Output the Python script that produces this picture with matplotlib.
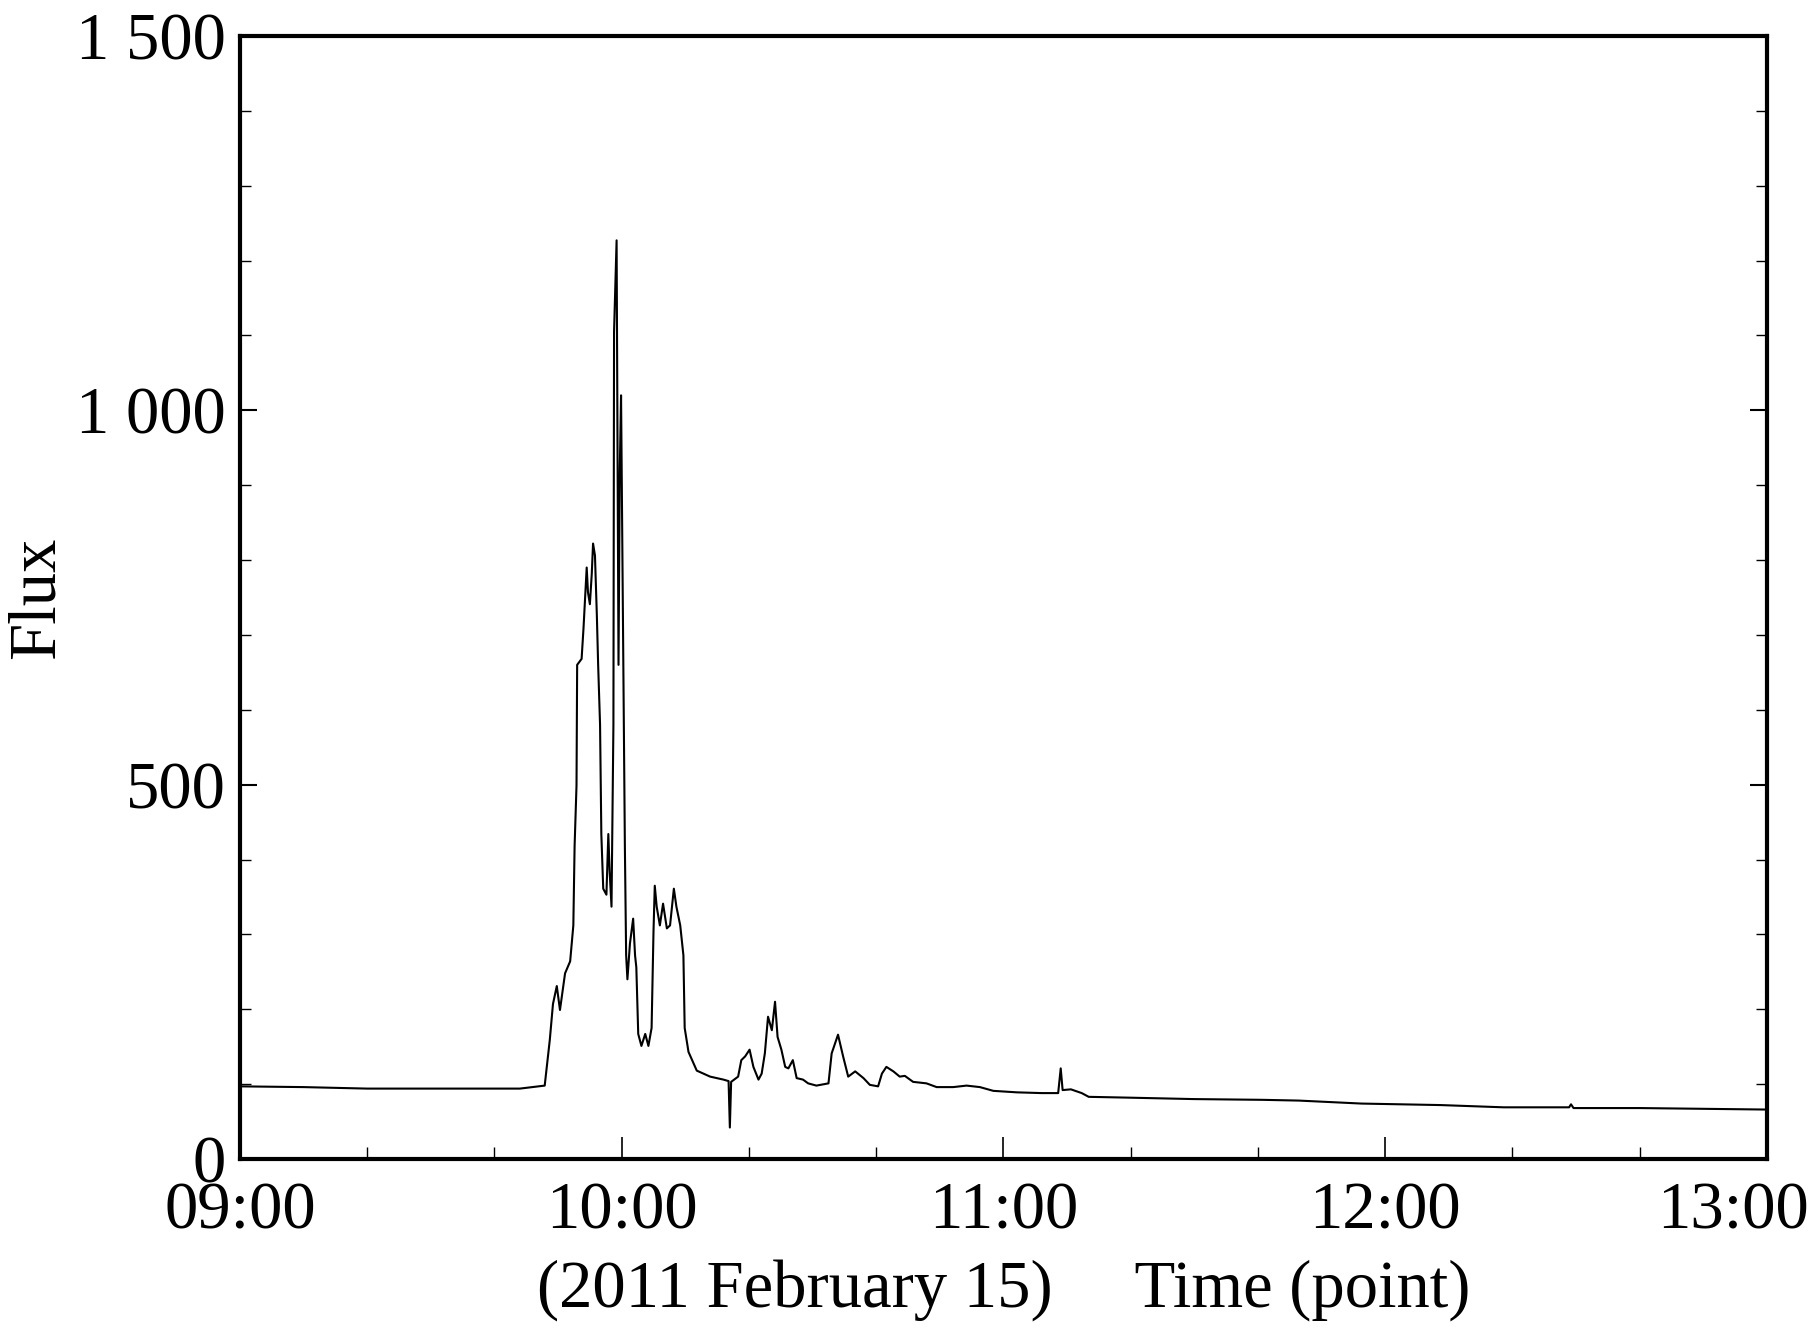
import matplotlib
matplotlib.use("Agg")
import matplotlib.pyplot as plt
import matplotlib.transforms as mtransforms
from matplotlib.ticker import MultipleLocator

plt.rcParams['font.family'] = ['Liberation Serif', 'DejaVu Serif']

# minutes after 09:00 and flux values
minutes = [0, 10, 20, 30, 40, 44, 47.9, 48.7, 49.2, 49.8, 50.3, 51.1, 51.9, 52.4, 52.6,
           52.9, 53.0, 53.7, 54.0, 54.5, 54.7, 55.0, 55.3, 55.5, 55.8, 56.1, 56.3, 56.6,
           56.8, 57.1, 57.6, 57.9, 58.1, 58.4, 58.7, 58.8, 59.2, 59.5, 59.7, 59.9, 60.1,
           60.3, 60.5, 60.7, 60.9, 61.3, 61.8, 62.1, 62.3, 62.6, 63.1, 63.7, 64.2, 64.7,
           65.0, 65.2, 65.5, 66.0, 66.5, 67.1, 67.6, 68.2, 68.6, 69.2, 69.7, 69.9, 70.5,
           71.8, 73.9, 76.0, 76.8, 77.0, 77.2, 78.3, 78.8, 79.4, 80.1, 80.7, 81.5, 82.0,
           82.5, 83.0, 83.6, 84.1, 84.5, 85.1, 85.7, 86.2, 86.9, 87.5, 88.5, 89.3, 90.6,
           92.5, 93.0, 94.0, 94.8, 95.6, 96.7, 98.0, 99.0, 100.3, 100.9, 101.6, 102.7,
           103.7, 104.5, 105.8, 107.9, 109.5, 112.1, 114.2, 116.3, 118.4, 122.1, 126.0,
           128.6, 129.0, 129.3, 130.6, 132.3, 133.4, 139.2, 149.9, 160.7, 166.4, 176.3,
           188.7, 198.6, 208.9, 209.2, 209.6, 220.0, 230.7, 240]
flux = [97, 96, 94, 94, 94, 94, 98, 159, 207, 231, 199, 248, 264, 312, 418,
        499, 660, 668, 709, 790, 757, 741, 782, 822, 806, 725, 660, 580,
        434, 361, 353, 434, 385, 337, 580, 1105, 1227, 660, 919, 1020, 822,
        620, 418, 272, 240, 288, 321, 272, 256, 167, 151, 167, 151, 175,
        304, 365, 337, 312, 341, 308, 312, 361, 337, 312, 272, 175, 143,
        118, 110, 106, 104, 42, 103, 110, 132, 137, 146, 123, 106, 114,
        141, 190, 172, 210, 163, 146, 123, 121, 132, 108, 106, 101, 98,
        101, 141, 166, 137, 110, 117, 108, 99, 97, 114, 123, 117,
        110, 111, 103, 101, 96, 96, 98, 96, 91, 89, 88,
        88, 121, 92, 93, 88, 83, 82, 80, 79, 78, 74,
        72, 69, 69, 73, 68, 68, 67, 66]

x_ticks = [9, 10, 11, 12, 13]
x_ticklabels = ["09:00", "10:00", "11:00", "12:00", "13:00"]
y_ticks = [0, 500, 1000, 1500]
y_ticklabels = ["0", "500", "1 000", "1 500"]
xlabel = "(2011 February 15)     Time (point)"
ylabel = "Flux"

hours = [9 + m / 60.0 for m in minutes]

fig = plt.figure(figsize=(18.19, 13.32), dpi=100)
ax = fig.add_axes([0.1319, 0.1299, 0.8395, 0.8431])
ax.plot(hours, flux, color='black', lw=1.5)

ax.set_xlim(9, 13)
ax.set_ylim(0, 1500)
ax.set_xticks(x_ticks)
ax.set_xticklabels(x_ticklabels)
ax.xaxis.set_minor_locator(MultipleLocator(1 / 3))
ax.set_yticks(y_ticks)
ax.set_yticklabels(y_ticklabels)
ax.yaxis.set_minor_locator(MultipleLocator(100))

for s in ax.spines.values():
    s.set_linewidth(3.0)

ax.tick_params(axis='both', which='both', direction='in', labelsize=48, colors='black')
ax.tick_params(axis='x', which='major', length=16, width=1.2, pad=16, top=False)
ax.tick_params(axis='x', which='minor', length=9, width=1.0, top=False)
ax.tick_params(axis='y', which='major', length=12, width=1.5, pad=10, right=True)
ax.tick_params(axis='y', which='minor', length=8, width=1.0, right=True)

# last x tick label is pulled left so it stays inside the figure
last = ax.get_xticklabels()[-1]
last.set_transform(last.get_transform() +
                   mtransforms.ScaledTranslation(-34 / 100, 0, fig.dpi_scale_trans))

ax.set_xlabel(xlabel, fontsize=48, labelpad=12)
ax.set_ylabel(ylabel, fontsize=48, labelpad=6)

fig.savefig("out.png", dpi=100)
